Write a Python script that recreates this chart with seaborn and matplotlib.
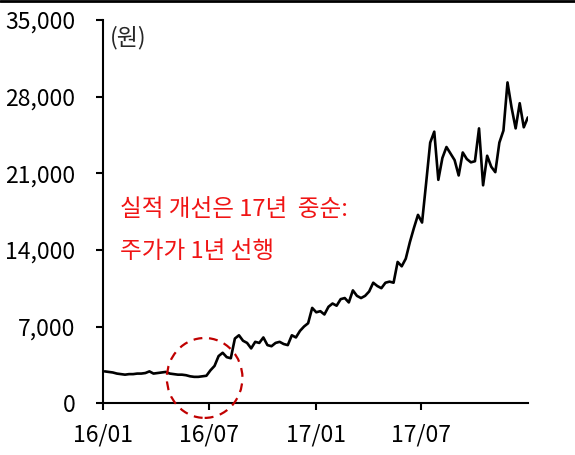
import numpy as np
import pandas as pd
import matplotlib
matplotlib.use("Agg")
import matplotlib.pyplot as plt
import matplotlib.dates as mdates
from matplotlib.patches import Ellipse
from matplotlib.lines import Line2D
from matplotlib.ticker import FuncFormatter
import seaborn as sns

# ----------------------------
# DATA (weekly closes)
# ----------------------------
start_date = "2016-01-04"
prices = [
    2900, 2850, 2800, 2700, 2650, 2600, 2650, 2650, 2700, 2700,
    2750, 2900, 2700, 2750, 2800, 2850, 2700, 2650, 2600, 2600,
    2550, 2450, 2400, 2400, 2450, 2500, 3000, 3400, 4300, 4600,
    4200, 4100, 5900, 6200, 5700, 5500, 5000, 5600, 5500, 6000,
    5300, 5200, 5500, 5600, 5400, 5300, 6200, 6000, 6600, 7000,
    7300, 8700, 8300, 8400, 8100, 8800, 9100, 8900, 9500, 9600,
    9200, 10300, 9800, 9600, 9800, 10200, 11000, 10700, 10500, 11000,
    11100, 11000, 12900, 12500, 13200, 14700, 16000, 17200, 16500, 20100,
    23800, 24800, 20400, 22400, 23400, 22800, 22200, 20800, 22900, 22300,
    22000, 22100, 25100, 19900, 22600, 21600, 21100, 23800, 24900, 29300,
    27000, 25100, 27400, 25200, 26100,
]
y_ticks = [0, 7000, 14000, 21000, 28000, 35000]
x_ticks = ["2016-01-01", "2016-07-01", "2017-01-01", "2017-07-01"]
unit_label = "(원)"
note_lines = ["실적 개선은 17년  중순:", "주가가 1년 선행"]

df = pd.DataFrame({
    "date": pd.date_range(start_date, periods=len(prices), freq="7D"),
    "price": prices,
})

# ----------------------------
# PLOT
# ----------------------------
sns.set_style("ticks")
plt.rcParams["font.family"] = ["Noto Sans CJK KR", "DejaVu Sans"]

fig = plt.figure(figsize=(5.75, 4.55), dpi=100)
ax = fig.add_axes([0.179, 0.114, 0.739, 0.842])

sns.lineplot(data=df, x="date", y="price", color="black", linewidth=1.9, ax=ax)

ax.set_xlim(pd.Timestamp("2016-01-01"), pd.Timestamp("2018-01-01"))
ax.set_ylim(0, 35000)
ax.set_yticks(y_ticks)
ax.yaxis.set_major_formatter(FuncFormatter(lambda v, p: f"{int(v):,}"))
ax.set_xticks([pd.Timestamp(d) for d in x_ticks])
ax.xaxis.set_major_formatter(mdates.DateFormatter("%y/%m"))
ax.set_xlabel("")
ax.set_ylabel("")

for side in ["top", "right"]:
    ax.spines[side].set_visible(False)
for side in ["left", "bottom"]:
    ax.spines[side].set_linewidth(1.5)
    ax.spines[side].set_color("black")
ax.tick_params(axis="both", direction="out", length=5, width=1.5,
               labelsize=16.5, colors="black")
ax.tick_params(axis="y", pad=15)
ax.tick_params(axis="x", pad=10)

ax.text(0.016, 0.953, unit_label, transform=ax.transAxes, fontsize=16.5,
        ha="left", va="center")

# annotation
ax.text(0.04, 0.506, note_lines[0], transform=ax.transAxes, fontsize=17,
        color="#F01414", ha="left", va="center")
ax.text(0.04, 0.396, note_lines[1], transform=ax.transAxes, fontsize=17,
        color="#F01414", ha="left", va="center")

circle = Ellipse((mdates.date2num(pd.Timestamp("2016-06-24")), 2300),
                 width=130, height=7300, fill=False, edgecolor="#C00000",
                 linestyle=(0, (4, 3)), linewidth=1.6, clip_on=False, zorder=5)
ax.add_patch(circle)

# top border line
fig.add_artist(Line2D([0, 1], [0.997, 0.997], transform=fig.transFigure,
                      color="black", linewidth=2))

fig.savefig("out.png", dpi=100)
